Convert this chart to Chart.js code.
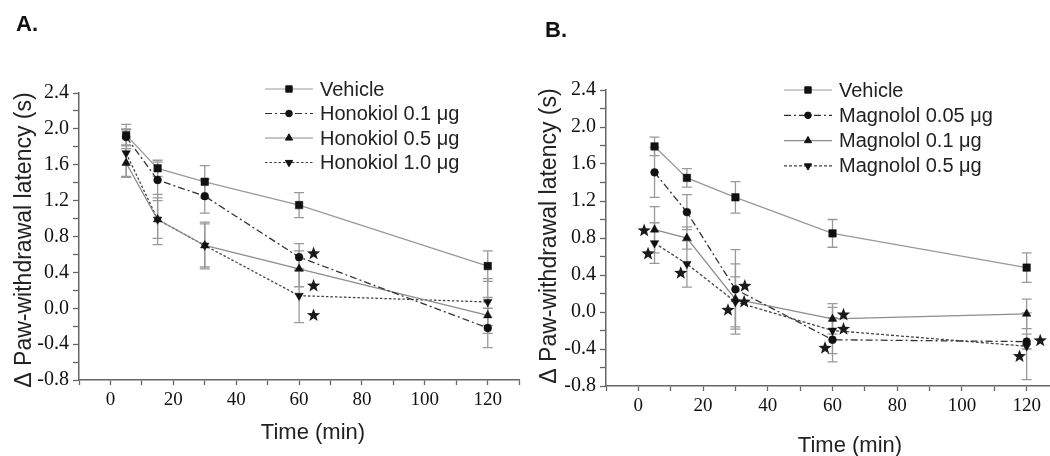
<!DOCTYPE html>
<html>
<head>
<meta charset="utf-8">
<script src="https://cdn.jsdelivr.net/npm/chart.js@4.4.1/dist/chart.umd.min.js"></script>
<style>
    html, body { margin: 0; padding: 0; background: #fff; overflow: hidden; }
    #wrap { position: relative; width: 1050px; height: 456px; overflow: hidden; }
    #boxA { position: absolute; left: 0; top: 0; }
    #boxB { position: absolute; left: 525px; top: 0; }
</style>
</head>
<body>
<div id="wrap">
    <div id="boxA"><canvas id="chartA" width="525" height="456"></canvas></div>
    <div id="boxB"><canvas id="chartB" width="545" height="456"></canvas></div>
</div>
<script>
    "use strict";

    // Data (time in min, latency change in s)
    var timePoints = [5, 15, 30, 60, 120];

    // Panel A - honokiol
    var vehicleA = [1.93, 1.56, 1.41, 1.15, 0.47];
    var vehicleAErr = [0.12, 0.09, 0.18, 0.14, 0.17];
    var hono01 = [1.91, 1.43, 1.25, 0.57, -0.22];
    var hono01Err = [0.09, 0.20, 0.19, 0.15, 0.22];
    var hono05 = [1.62, 0.99, 0.70, 0.44, -0.08];
    var hono05Err = [0.16, 0.28, 0.24, 0.20, 0.20];
    var hono10 = [1.73, 0.99, 0.70, 0.14, 0.07];
    var hono10Err = [0.26, 0.21, 0.26, 0.30, 0.26];
    var starXA = [64.6, 64.6, 64.6];
    var starYA = [0.61, 0.25, -0.08];

    // Panel B - magnolol
    var vehicleB = [1.79, 1.45, 1.24, 0.85, 0.48];
    var vehicleBErr = [0.10, 0.10, 0.17, 0.15, 0.16];
    var mag005 = [1.51, 1.08, 0.245, -0.30, -0.32];
    var mag005Err = [0.27, 0.19, 0.43, 0.24, 0.08];
    var mag01 = [0.89, 0.80, 0.14, -0.075, -0.02];
    var mag01Err = [0.25, 0.12, 0.38, 0.165, 0.16];
    var mag05 = [0.745, 0.52, 0.11, -0.20, -0.37];
    var mag05Err = [0.22, 0.25, 0.27, 0.25, 0.36];
    var starXB = [1.8, 3.0, 13.1, 32.9, 32.7, 27.7, 63.4, 63.4, 57.7, 124.2, 117.8];
    var starYB = [0.88, 0.63, 0.42, 0.28, 0.11, 0.02, -0.03, -0.185, -0.39, -0.31, -0.48];

    // Axis ticks
    var xLabels = [0, 20, 40, 60, 80, 100, 120];
    var yLabels = [-0.8, -0.4, 0.0, 0.4, 0.8, 1.2, 1.6, 2.0, 2.4];

    var SANS = "'Liberation Sans', Arial, sans-serif";
    var SERIF = "'Liberation Serif', 'Times New Roman', serif";

    Chart.defaults.font.family = SERIF;
    Chart.defaults.font.size = 18;
    Chart.defaults.color = '#111';

    function points(ys) {
        return timePoints.map(function (t, i) { return {x: t, y: ys[i]}; });
    }

    function series(label, ys, errs, style, color, dash, rot) {
        return {
            label: label,
            data: points(ys),
            errors: errs,
            borderColor: color,
            borderWidth: 1.3,
            borderDash: dash,
            pointStyle: style,
            pointRotation: rot || 0,
            pointRadius: style === 'rect' ? 5.3 : (style === 'circle' ? 3.9 : 4.9),
            pointBackgroundColor: '#111',
            pointBorderColor: '#111',
            pointBorderWidth: 0.5,
            tension: 0,
            fill: false
        };
    }

    // Error bars, drawn under the lines
    var errorBars = {
        id: 'errorBars',
        beforeDatasetsDraw: function (chart) {
            var ctx = chart.ctx, y = chart.scales.y;
            ctx.save();
            ctx.strokeStyle = '#999';
            ctx.lineWidth = 1.3;
            chart.data.datasets.forEach(function (ds, i) {
                var meta = chart.getDatasetMeta(i);
                ds.data.forEach(function (p, j) {
                    var px = meta.data[j].x;
                    var top = y.getPixelForValue(p.y + ds.errors[j]);
                    var bot = y.getPixelForValue(p.y - ds.errors[j]);
                    ctx.beginPath();
                    ctx.moveTo(px, top); ctx.lineTo(px, bot);
                    ctx.moveTo(px - 5, top); ctx.lineTo(px + 5, top);
                    ctx.moveTo(px - 5, bot); ctx.lineTo(px + 5, bot);
                    ctx.stroke();
                });
            });
            ctx.restore();
        }
    };

    function drawStar(ctx, cx, cy, r) {
        ctx.beginPath();
        for (var k = 0; k < 10; k++) {
            var rr = k % 2 === 0 ? r : r * 0.42;
            var a = -Math.PI / 2 + k * Math.PI / 5;
            ctx.lineTo(cx + rr * Math.cos(a), cy + rr * Math.sin(a));
        }
        ctx.closePath();
        ctx.fill();
    }

    // Significance stars, legend and text
    var extras = {
        id: 'extras',
        afterDraw: function (chart, args, opts) {
            var ctx = chart.ctx, xs = chart.scales.x, ys = chart.scales.y;
            ctx.save();

            ctx.fillStyle = '#1a1a1a';
            opts.starX.forEach(function (sx, i) {
                drawStar(ctx, xs.getPixelForValue(sx), ys.getPixelForValue(opts.starY[i]), 7);
            });

            // legend
            chart.data.datasets.forEach(function (ds, i) {
                var ly = opts.legend.y + i * opts.legend.step;
                var lx = opts.legend.x;
                ctx.save();
                ctx.strokeStyle = ds.borderColor;
                ctx.lineWidth = 1.2;
                ctx.setLineDash(ds.borderDash);
                ctx.beginPath();
                ctx.moveTo(lx, ly); ctx.lineTo(lx + 48, ly);
                ctx.stroke();
                ctx.restore();
                ctx.fillStyle = '#111';
                ctx.strokeStyle = '#111';
                Chart.helpers.drawPoint(ctx, {
                    pointStyle: ds.pointStyle, rotation: ds.pointRotation,
                    radius: ds.pointRadius * 0.85, borderWidth: 0.5
                }, lx + 24, ly);
                ctx.fillStyle = '#222';
                ctx.font = '20px ' + SANS;
                ctx.textBaseline = 'middle';
                ctx.textAlign = 'left';
                ctx.fillText(ds.label, lx + 55, ly + 1);
            });

            // panel letter
            ctx.fillStyle = '#111';
            ctx.font = 'bold 22px ' + SANS;
            ctx.textAlign = 'left';
            ctx.textBaseline = 'alphabetic';
            ctx.fillText(opts.letter, opts.letterX, opts.letterY);

            // axis titles
            ctx.fillStyle = '#222';
            ctx.font = '22px ' + SANS;
            ctx.textAlign = 'center';
            ctx.textBaseline = 'middle';
            ctx.fillText('Time (min)', opts.xTitle[0], opts.xTitle[1]);
            ctx.translate(opts.yTitle[0], opts.yTitle[1]);
            ctx.rotate(-Math.PI / 2);
            ctx.font = '23px ' + SANS;
            ctx.fillText('\u0394 Paw-withdrawal latency (s)', 0, 0);
            ctx.restore();
        }
    };

    function makeChart(id, datasets, cfg) {
        var ctx = document.getElementById(id).getContext('2d');
        return new Chart(ctx, {
            type: 'line',
            data: {datasets: datasets},
            plugins: [errorBars, extras],
            options: {
                responsive: false,
                animation: false,
                devicePixelRatio: 1,
                layout: {padding: {top: cfg.top, right: cfg.right, left: 0, bottom: 0}},
                plugins: {
                    legend: {display: false},
                    tooltip: {enabled: false},
                    extras: cfg.extras
                },
                scales: {
                    x: {
                        type: 'linear',
                        min: -10,
                        max: 130,
                        afterFit: function (s) { s.height = cfg.xHeight; },
                        ticks: {
                            stepSize: 10,
                            autoSkip: false,
                            maxRotation: 0,
                            padding: 4,
                            font: {family: SERIF, size: 19},
                            callback: function (v) { return xLabels.indexOf(v) >= 0 ? v : ''; }
                        },
                        grid: {drawOnChartArea: false, drawTicks: true, tickLength: 5, tickColor: '#666', tickWidth: 1.3},
                        border: {color: '#666', width: 1.5}
                    },
                    y: {
                        min: -0.8,
                        max: 2.4,
                        afterFit: function (s) { s.width = cfg.yWidth; },
                        ticks: {
                            stepSize: 0.2,
                            autoSkip: false,
                            padding: 4,
                            font: {family: SERIF, size: 20},
                            callback: function (v) {
                                var r = Math.round(v * 10) / 10;
                                return yLabels.indexOf(r) >= 0 ? r.toFixed(1) : '';
                            }
                        },
                        grid: {drawOnChartArea: false, drawTicks: true, tickLength: 6, tickColor: '#666', tickWidth: 1.3},
                        border: {color: '#666', width: 1.5}
                    }
                }
            }
        });
    }

    // Panel A
    makeChart('chartA', [
        series('Vehicle', vehicleA, vehicleAErr, 'rect', '#999', []),
        series('Honokiol 0.1 \u03bcg', hono01, hono01Err, 'circle', '#333', [7, 3, 2, 3]),
        series('Honokiol 0.5 \u03bcg', hono05, hono05Err, 'triangle', '#8c8c8c', []),
        series('Honokiol 1.0 \u03bcg', hono10, hono10Err, 'triangle', '#444', [2.5, 2], 180)
    ], {
        top: 93, right: 5, xHeight: 76, yWidth: 79,
        extras: {
            starX: starXA, starY: starYA,
            legend: {x: 265, y: 89, step: 24.5},
            letter: 'A.', letterX: 16, letterY: 31,
            xTitle: [313, 433], yTitle: [25, 240]
        }
    });

    // Panel B
    makeChart('chartB', [
        series('Vehicle', vehicleB, vehicleBErr, 'rect', '#999', []),
        series('Magnolol 0.05 \u03bcg', mag005, mag005Err, 'circle', '#333', [7, 3, 2, 3]),
        series('Magnolol 0.1 \u03bcg', mag01, mag01Err, 'triangle', '#8c8c8c', []),
        series('Magnolol 0.5 \u03bcg', mag05, mag05Err, 'triangle', '#444', [3, 2], 180)
    ], {
        top: 90, right: 11, xHeight: 70, yWidth: 81,
        extras: {
            starX: starXB, starY: starYB,
            legend: {x: 259, y: 90, step: 25.3},
            letter: 'B.', letterX: 20, letterY: 37,
            xTitle: [325, 446], yTitle: [25, 236]
        }
    });
</script>
</body>
</html>
